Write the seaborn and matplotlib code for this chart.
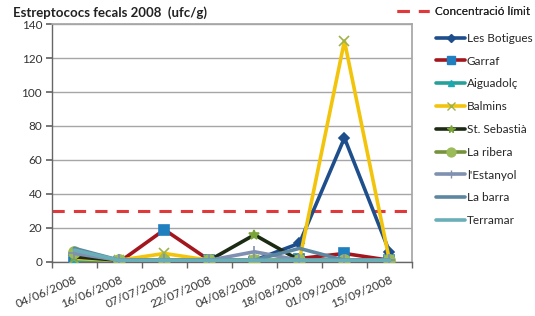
import matplotlib
matplotlib.use("Agg")
import matplotlib.pyplot as plt
import seaborn as sns
import numpy as np
import pandas as pd
from matplotlib.lines import Line2D

# data
dates = ['04/06/2008', '16/06/2008', '07/07/2008', '22/07/2008',
         '04/08/2008', '18/08/2008', '01/09/2008', '15/09/2008']
les_botigues = [4, 1, 1, 1, 1, 11, 73, 6]
garraf = [0, 0, 19, 1, 0, 2, 5, 1]
aiguadolc = [0, 0, 0, 0, 0, 0, 0, 0]
balmins = [2, 1, 5, 1, 1, 1, 130, 1]
st_sebastia = [3, 1, 1, 1, 16, 1, 1, 1]
la_ribera = [6, 1, 1, 1, 1, 1, 1, 1]
lestanyol = [5, 1, 1, 1, 6, 1, 1, 1]
la_barra = [8, 1, 1, 1, 1, 8, 1, 1]
terramar = [7, 1, 1, 1, 1, 1, 1, 1]
limit = 30

sites = ['Les Botigues', 'Garraf', 'Aiguadolç', 'Balmins', 'St. Sebastià',
         'La ribera', "l'Estanyol", 'La barra', 'Terramar']
values = [les_botigues, garraf, aiguadolc, balmins, st_sebastia,
          la_ribera, lestanyol, la_barra, terramar]

line_colors = ['#1F4E8C', '#A3161E', '#25A09A', '#F2C40C', '#1C2B14',
               '#76923C', '#8090B0', '#5D87A1', '#6AAFB8']
marker_colors = ['#1F4E8C', '#1F7FBF', '#1BA8B0', '#9DB24C', '#7AA33A',
                 '#9BBB59', '#8090B0', '#5D87A1', '#6AAFB8']
markers = ['D', 's', '^', 'x', '*', 'o', '+', '_', '_']
msizes = [5, 7, 6, 7, 7, 8, 8, 0, 0]

rows = []
for site, vals in zip(sites, values):
    for i, v in enumerate(vals):
        rows.append({'site': site, 'pos': i, 'value': v})
df = pd.DataFrame(rows)

sns.set_theme(style="white")
plt.rcParams['font.family'] = ['Lato', 'DejaVu Sans']

fig = plt.figure(figsize=(5.35, 3.16), dpi=100)
ax = fig.add_axes([0.097, 0.171, 0.673, 0.753])

ax.axhline(limit, color='#E0393B', lw=2.2, dashes=(4, 3), zorder=1)

handles = []
for k, site in enumerate(sites):
    sub = df[df['site'] == site]
    sns.lineplot(data=sub, x='pos', y='value', ax=ax, color=line_colors[k],
                 lw=2.6, marker=markers[k], markersize=msizes[k],
                 markerfacecolor=marker_colors[k], markeredgecolor=marker_colors[k],
                 markeredgewidth=1.2, legend=False, zorder=2 + k)
    handles.append(Line2D([0], [0], color=line_colors[k], lw=2.6,
                          marker=markers[k], markersize=msizes[k] * 0.8,
                          markerfacecolor=marker_colors[k],
                          markeredgecolor=marker_colors[k], label=site))

ax.set_xlim(-0.5, len(dates) - 0.5)
ax.set_ylim(0, 140)
ax.set_yticks(np.arange(0, 141, 20))
ax.yaxis.grid(True, color='#A6A6A6', lw=1)
ax.set_axisbelow(True)
ax.set_xlabel('')
ax.set_ylabel('')

ax.set_xticks(np.arange(len(dates)))
ax.set_xticklabels(dates, rotation=23, ha='right', rotation_mode='anchor',
                   fontsize=8.5, color='#333333')
ax.tick_params(axis='x', length=0, pad=9)
ax.tick_params(axis='y', labelsize=8.5, labelcolor='#333333', length=4,
               color='#666666', left=True, pad=3)
# tick marks between categories like Excel
ax.set_xticks(np.arange(-0.5, len(dates), 1), minor=True)
ax.tick_params(axis='x', which='minor', length=4, color='#666666', bottom=True)

for s in ['left', 'bottom']:
    ax.spines[s].set_color('#666666')
    ax.spines[s].set_linewidth(1)
ax.spines['right'].set_color('#A6A6A6')
ax.spines['top'].set_color('#A6A6A6')

fig.text(0.024, 0.946, 'Estreptococs fecals 2008  (ufc/g)', fontsize=9.5,
         fontweight='bold', color='#222222')

lim_handle = Line2D([0], [0], color='#E0393B', lw=2.2, dashes=(4, 3),
                    label='Concentració límit')
leg1 = fig.legend(handles=[lim_handle], loc='upper left',
                  bbox_to_anchor=(0.742, 0.98), frameon=False, fontsize=8.5,
                  handlelength=2.7, handletextpad=0.5, borderpad=0,
                  borderaxespad=0)
fig.legend(handles=handles, loc='upper left', bbox_to_anchor=(0.795, 0.93),
           frameon=False, fontsize=8.5, handlelength=2.5, handletextpad=0.1,
           labelspacing=1.0)
fig.add_artist(leg1)

fig.savefig('out.png', dpi=100)
